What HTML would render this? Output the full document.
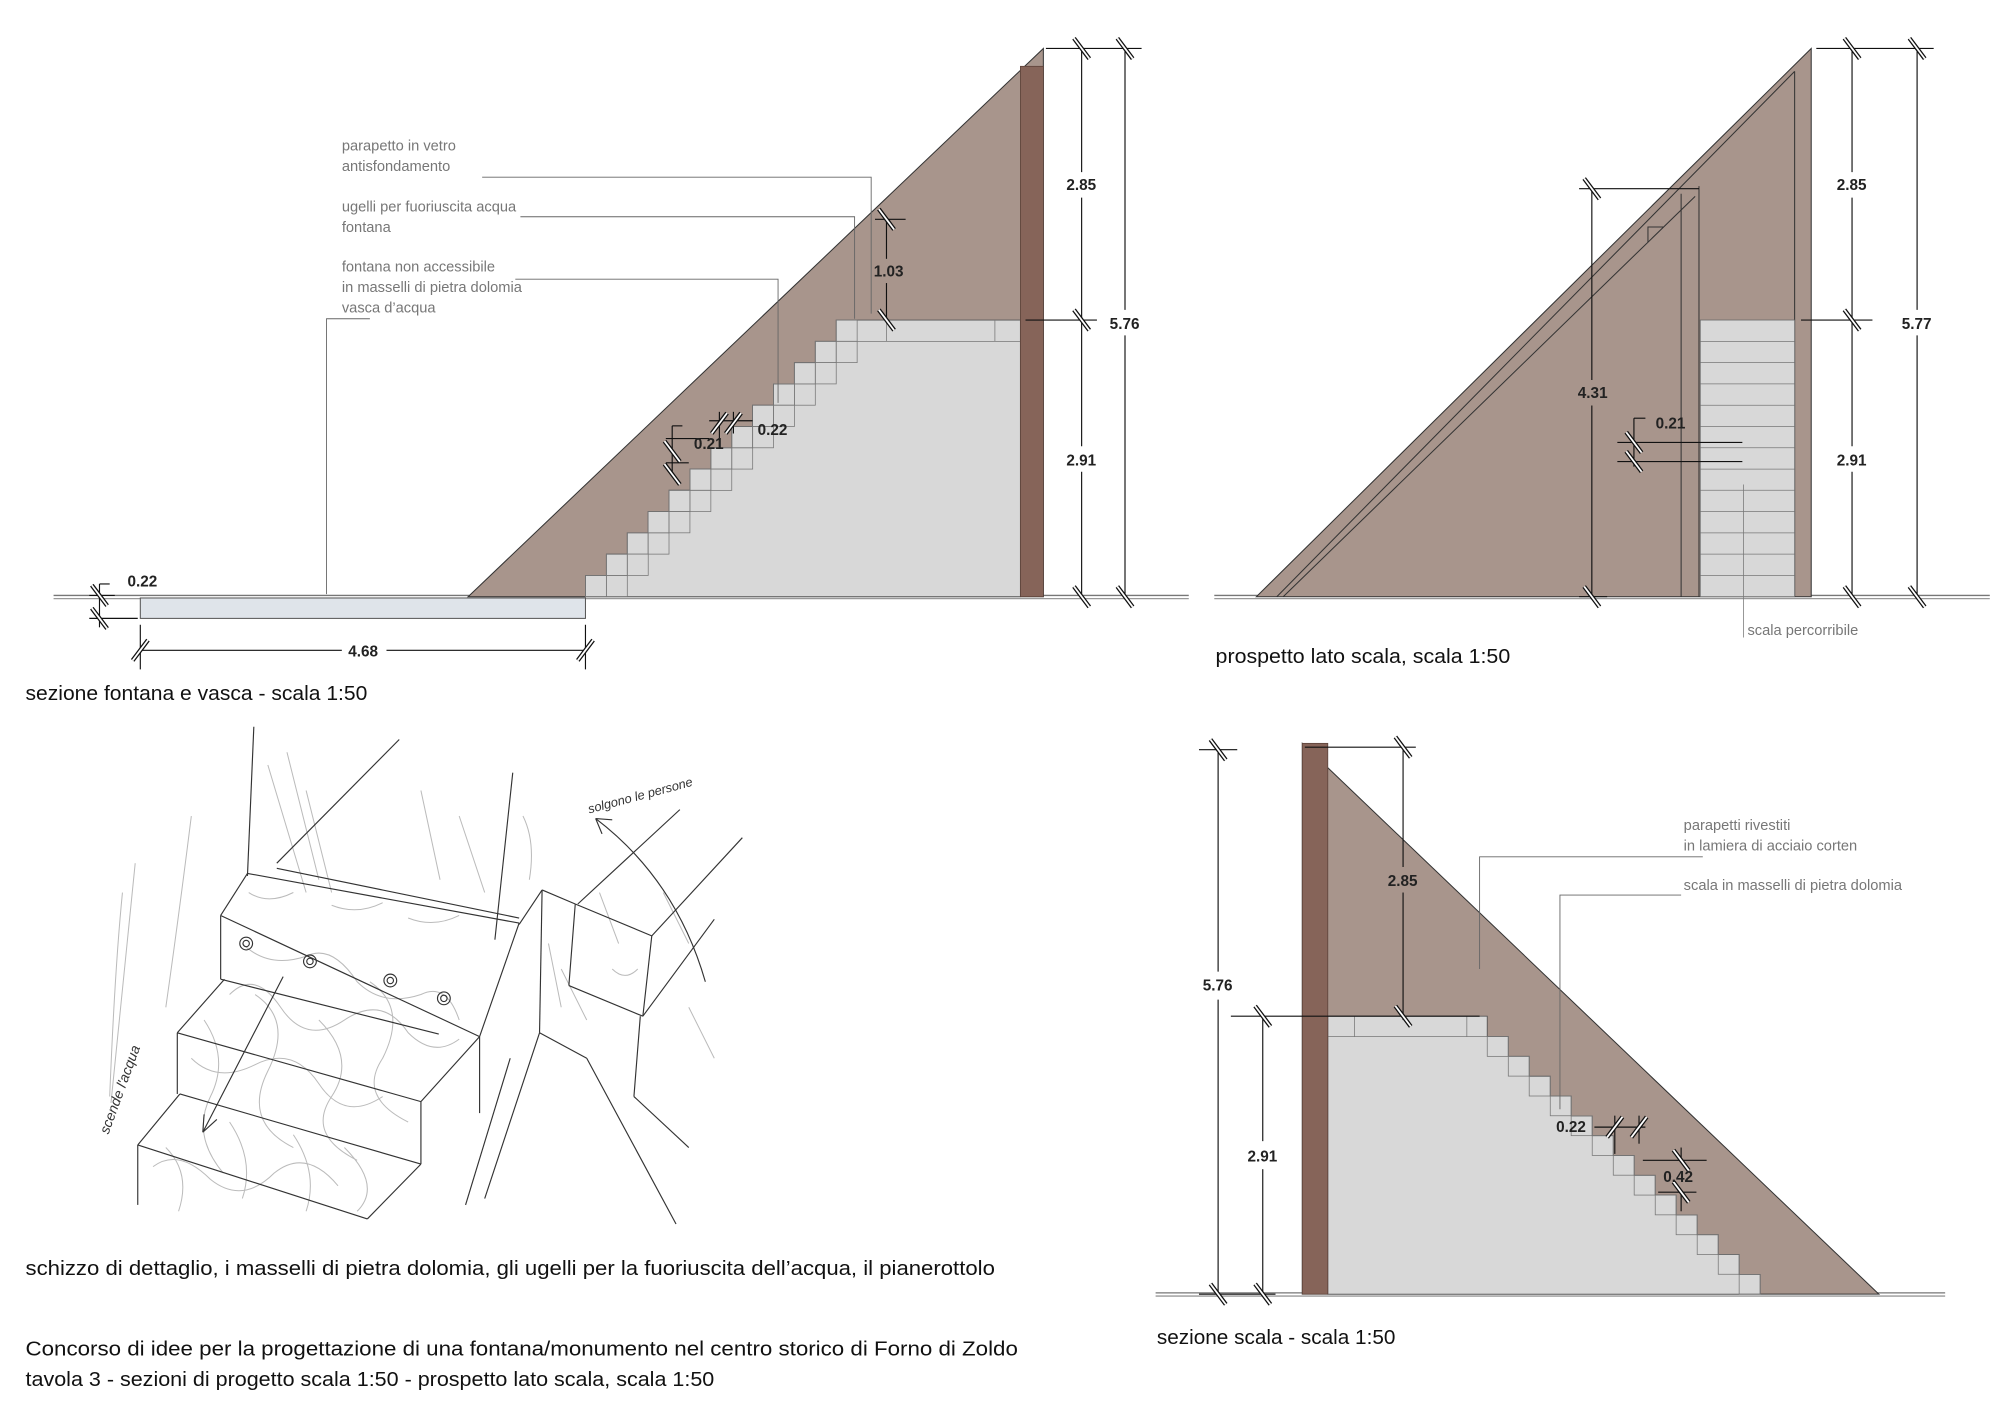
<!DOCTYPE html>
<html><head><meta charset="utf-8"><style>
html,body{margin:0;padding:0;background:#fff;}
svg{display:block;}
.t{font-family:"Liberation Sans",sans-serif;}
.lab{font-family:"Liberation Sans",sans-serif;font-size:11.5px;fill:#777;}
.dim{font-family:"Liberation Sans",sans-serif;font-size:12px;font-weight:bold;fill:#222;}
.cap{font-family:"Liberation Sans",sans-serif;font-size:16px;fill:#111;}
</style></head><body>
<svg width="2000" height="1414" viewBox="0 0 1568 1109" preserveAspectRatio="none" xmlns="http://www.w3.org/2000/svg">
<defs>
<g id="tv"><line x1="-6" y1="-8" x2="6" y2="8" stroke="#111" stroke-width="3.4"/><line x1="-6" y1="-8" x2="6" y2="8" stroke="#fff" stroke-width="1.4"/></g>
<g id="th"><line x1="-6" y1="8" x2="6" y2="-8" stroke="#111" stroke-width="3.4"/><line x1="-6" y1="8" x2="6" y2="-8" stroke="#fff" stroke-width="1.4"/></g>
</defs>
<rect width="1568" height="1109" fill="#fff"/>

<!-- PANEL 1 -->
<line x1="42" y1="467" x2="932" y2="467" stroke="#777" stroke-width="1"/>
<line x1="42" y1="469.5" x2="932" y2="469.5" stroke="#999" stroke-width="1"/>
<polygon points="367,468 818,38 818,468" fill="#a8958c" stroke="#333" stroke-width="0.8"/>
<polygon points="459,468 459,451.3 475.4,451.3 475.4,434.6 491.8,434.6 491.8,417.9 508.1,417.9 508.1,401.2 524.5,401.2 524.5,384.5 540.9,384.5 540.9,367.9 557.3,367.9 557.3,351.2 573.7,351.2 573.7,334.5 590,334.5 590,317.8 606.4,317.8 606.4,301.1 622.8,301.1 622.8,284.4 639.2,284.4 639.2,267.7 655.6,267.7 655.6,251 672,251 800,251 800,468" fill="#d8d8d8" stroke="#555" stroke-width="0.7"/>
<g fill="none" stroke="#777" stroke-width="0.6">
<rect x="459" y="451.3" width="16.4" height="16.7"/><rect x="475.4" y="434.6" width="16.4" height="16.7"/><rect x="491.8" y="417.9" width="16.4" height="16.7"/><rect x="508.1" y="401.2" width="16.4" height="16.7"/><rect x="524.5" y="384.5" width="16.4" height="16.7"/><rect x="540.9" y="367.9" width="16.4" height="16.7"/><rect x="557.3" y="351.2" width="16.4" height="16.7"/><rect x="573.7" y="334.5" width="16.4" height="16.7"/><rect x="590" y="317.8" width="16.4" height="16.7"/><rect x="606.4" y="301.1" width="16.4" height="16.7"/><rect x="622.8" y="284.4" width="16.4" height="16.7"/><rect x="639.2" y="267.7" width="16.4" height="16.7"/>
<rect x="475.4" y="451.3" width="16.4" height="16.7"/><rect x="491.8" y="434.6" width="16.4" height="16.7"/><rect x="508.1" y="417.9" width="16.4" height="16.7"/><rect x="524.5" y="401.2" width="16.4" height="16.7"/><rect x="540.9" y="384.5" width="16.4" height="16.7"/><rect x="557.3" y="367.9" width="16.4" height="16.7"/><rect x="573.7" y="351.2" width="16.4" height="16.7"/><rect x="590" y="334.5" width="16.4" height="16.7"/><rect x="606.4" y="317.8" width="16.4" height="16.7"/><rect x="622.8" y="301.1" width="16.4" height="16.7"/><rect x="639.2" y="284.4" width="16.4" height="16.7"/><rect x="655.6" y="267.7" width="16.4" height="16.7"/>
<rect x="655.6" y="251" width="16.4" height="16.7"/><line x1="672" y1="267.7" x2="800" y2="267.7"/><line x1="780" y1="251" x2="780" y2="267.7"/><line x1="695" y1="251" x2="695" y2="267.7"/>
</g>
<rect x="800" y="52" width="18" height="416" fill="#866459" stroke="#5a4038" stroke-width="0.6"/>
<rect x="110" y="469" width="349" height="16" fill="#dfe4ea" stroke="#555" stroke-width="0.8"/>
<g stroke="#666" stroke-width="0.7" fill="none">
<polyline points="378,139 683,139 683,246"/>
<polyline points="408,170 670,170 670,250"/>
<polyline points="404,219 610,219 610,316"/>
<polyline points="290,250 256,250 256,466"/>
</g>
<text class="lab" x="268" y="118">parapetto in vetro</text>
<text class="lab" x="268" y="134">antisfondamento</text>
<text class="lab" x="268" y="166">ugelli per fuoriuscita acqua</text>
<text class="lab" x="268" y="182">fontana</text>
<text class="lab" x="268" y="213">fontana non accessibile</text>
<text class="lab" x="268" y="229">in masselli di pietra dolomia</text>
<text class="lab" x="268" y="245">vasca d’acqua</text>
<g stroke="#111" stroke-width="0.9">
<line x1="820" y1="38" x2="895" y2="38"/><line x1="804" y1="251" x2="860" y2="251"/><line x1="848" y1="38" x2="848" y2="135"/><line x1="848" y1="155" x2="848" y2="350"/><line x1="848" y1="370" x2="848" y2="470"/>
<line x1="882" y1="38" x2="882" y2="243"/><line x1="882" y1="263" x2="882" y2="470"/>
<line x1="686" y1="172" x2="710" y2="172"/><line x1="695" y1="172" x2="695" y2="203"/><line x1="695" y1="222" x2="695" y2="251"/>
<line x1="70" y1="467" x2="90" y2="467"/><line x1="70" y1="485" x2="108" y2="485"/><line x1="78" y1="458" x2="78" y2="492"/><line x1="78" y1="458" x2="86" y2="458"/>
<line x1="110" y1="490" x2="110" y2="525"/><line x1="459" y1="490" x2="459" y2="525"/><line x1="110" y1="510" x2="268" y2="510"/><line x1="303" y1="510" x2="459" y2="510"/>
<line x1="522" y1="344" x2="556" y2="344"/><line x1="522" y1="363" x2="540" y2="363"/><line x1="527" y1="334" x2="527" y2="372"/><line x1="527" y1="334" x2="535" y2="334"/>
<line x1="556" y1="330" x2="590" y2="330"/><line x1="564" y1="323" x2="564" y2="350"/><line x1="575" y1="323" x2="575" y2="340"/>
</g>
<use href="#tv" x="848" y="38"/><use href="#tv" x="848" y="251"/><use href="#tv" x="848" y="468"/>
<use href="#tv" x="882" y="38"/><use href="#tv" x="882" y="468"/>
<use href="#tv" x="695" y="172"/><use href="#tv" x="695" y="251"/>
<use href="#tv" x="78" y="467"/><use href="#tv" x="78" y="485"/>
<use href="#th" x="110" y="510"/><use href="#th" x="459" y="510"/>
<use href="#tv" x="527" y="354"/><use href="#tv" x="527" y="372"/>
<use href="#th" x="564" y="332"/><use href="#th" x="575" y="332"/>
<text class="dim" x="836" y="149">2.85</text><text class="dim" x="836" y="365">2.91</text><text class="dim" x="870" y="258">5.76</text>
<text class="dim" x="685" y="217">1.03</text><text class="dim" x="100" y="460">0.22</text><text class="dim" x="273" y="515">4.68</text>
<text class="dim" x="544" y="352">0.21</text><text class="dim" x="594" y="341">0.22</text>
<text class="cap" x="20" y="549" textLength="268" lengthAdjust="spacingAndGlyphs">sezione fontana e vasca - scala 1:50</text>

<!-- PANEL 2 -->
<line x1="952" y1="467" x2="1560" y2="467" stroke="#777" stroke-width="1"/>
<line x1="952" y1="469.5" x2="1560" y2="469.5" stroke="#999" stroke-width="1"/>
<polygon points="985,468 1420,38 1420,468" fill="#a8958c" stroke="#333" stroke-width="0.8"/>
<g stroke="#333" stroke-width="0.8" fill="none">
<line x1="1001" y1="468" x2="1407" y2="56"/>
<line x1="1006" y1="468" x2="1329" y2="154"/>
<line x1="1318" y1="152" x2="1318" y2="468"/>
<line x1="1332" y1="146" x2="1332" y2="468"/>
<line x1="1407" y1="56" x2="1407" y2="468"/>
<polyline points="1292,190 1292,178 1304,178"/>
</g>
<rect x="1333" y="251" width="74" height="217" fill="#d8d8d8" stroke="#666" stroke-width="0.6"/>
<g stroke="#777" stroke-width="0.6">
<line x1="1333" y1="267.7" x2="1407" y2="267.7"/><line x1="1333" y1="284.4" x2="1407" y2="284.4"/><line x1="1333" y1="301.1" x2="1407" y2="301.1"/><line x1="1333" y1="317.8" x2="1407" y2="317.8"/><line x1="1333" y1="334.5" x2="1407" y2="334.5"/><line x1="1333" y1="351.2" x2="1407" y2="351.2"/><line x1="1333" y1="367.9" x2="1407" y2="367.9"/><line x1="1333" y1="384.5" x2="1407" y2="384.5"/><line x1="1333" y1="401.2" x2="1407" y2="401.2"/><line x1="1333" y1="417.9" x2="1407" y2="417.9"/><line x1="1333" y1="434.6" x2="1407" y2="434.6"/><line x1="1333" y1="451.3" x2="1407" y2="451.3"/>
<line x1="1367" y1="380" x2="1367" y2="500"/>
</g>
<g stroke="#111" stroke-width="0.9">
<line x1="1424" y1="38" x2="1516" y2="38"/><line x1="1412" y1="251" x2="1468" y2="251"/>
<line x1="1452" y1="38" x2="1452" y2="135"/><line x1="1452" y1="155" x2="1452" y2="350"/><line x1="1452" y1="370" x2="1452" y2="470"/>
<line x1="1503" y1="38" x2="1503" y2="243"/><line x1="1503" y1="263" x2="1503" y2="470"/>
<line x1="1238" y1="148" x2="1332" y2="148"/><line x1="1248" y1="148" x2="1248" y2="298"/><line x1="1248" y1="318" x2="1248" y2="470"/><line x1="1238" y1="468" x2="1260" y2="468"/>
<line x1="1268" y1="347" x2="1366" y2="347"/><line x1="1268" y1="362" x2="1366" y2="362"/><line x1="1281" y1="328" x2="1281" y2="366"/><line x1="1281" y1="328" x2="1290" y2="328"/>
</g>
<use href="#tv" x="1452" y="38"/><use href="#tv" x="1452" y="251"/><use href="#tv" x="1452" y="468"/>
<use href="#tv" x="1503" y="38"/><use href="#tv" x="1503" y="468"/>
<use href="#tv" x="1248" y="148"/><use href="#tv" x="1248" y="468"/>
<use href="#tv" x="1281" y="347"/><use href="#tv" x="1281" y="362"/>
<text class="dim" x="1440" y="149">2.85</text><text class="dim" x="1440" y="365">2.91</text><text class="dim" x="1491" y="258">5.77</text>
<text class="dim" x="1237" y="312">4.31</text><text class="dim" x="1298" y="336">0.21</text>
<text class="lab" x="1370" y="498">scala percorribile</text>
<text class="cap" x="953" y="520" textLength="231" lengthAdjust="spacingAndGlyphs">prospetto lato scala, scala 1:50</text>

<!-- PANEL 3 -->
<line x1="906" y1="1014" x2="1525" y2="1014" stroke="#777" stroke-width="1"/>
<line x1="906" y1="1016.5" x2="1525" y2="1016.5" stroke="#999" stroke-width="1"/>
<polygon points="1021,583 1473,1015 1021,1015" fill="#a8958c" stroke="#333" stroke-width="0.8"/>
<polygon points="1041,797 1166,797 1166,813 1182.5,813 1182.5,828.5 1198.9,828.5 1198.9,844.1 1215.4,844.1 1215.4,859.6 1231.8,859.6 1231.8,875.2 1248.3,875.2 1248.3,890.7 1264.8,890.7 1264.8,906.2 1281.2,906.2 1281.2,921.8 1297.7,921.8 1297.7,937.3 1314.1,937.3 1314.1,952.9 1330.6,952.9 1330.6,968.4 1347.1,968.4 1347.1,983.9 1363.5,983.9 1363.5,999.5 1380,999.5 1380,1015 1041,1015" fill="#d8d8d8" stroke="#555" stroke-width="0.7"/>
<g fill="none" stroke="#777" stroke-width="0.6">
<line x1="1041" y1="813" x2="1166" y2="813"/><line x1="1062" y1="797" x2="1062" y2="813"/><line x1="1150" y1="797" x2="1150" y2="813"/>
<rect x="1166" y="813" width="16.5" height="15.5"/><rect x="1182.5" y="828.5" width="16.5" height="15.5"/><rect x="1198.9" y="844.1" width="16.5" height="15.5"/><rect x="1215.4" y="859.6" width="16.5" height="15.5"/><rect x="1231.8" y="875.2" width="16.5" height="15.5"/><rect x="1248.3" y="890.7" width="16.5" height="15.5"/><rect x="1264.8" y="906.2" width="16.5" height="15.5"/><rect x="1281.2" y="921.8" width="16.5" height="15.5"/><rect x="1297.7" y="937.3" width="16.5" height="15.5"/><rect x="1314.1" y="952.9" width="16.5" height="15.5"/><rect x="1330.6" y="968.4" width="16.5" height="15.5"/><rect x="1347.1" y="983.9" width="16.5" height="15.5"/><rect x="1363.5" y="999.5" width="16.5" height="15.5"/>
</g>
<rect x="1021" y="583" width="20" height="432" fill="#866459" stroke="#5a4038" stroke-width="0.6"/>
<g stroke="#666" stroke-width="0.7" fill="none">
<polyline points="1335,672 1160,672 1160,760"/>
<polyline points="1318,702 1223,702 1223,870"/>
</g>
<text class="lab" x="1320" y="651">parapetti rivestiti</text>
<text class="lab" x="1320" y="667">in lamiera di acciaio corten</text>
<text class="lab" x="1320" y="698">scala in masselli di pietra dolomia</text>
<g stroke="#111" stroke-width="0.9">
<line x1="940" y1="588" x2="970" y2="588"/><line x1="955" y1="588" x2="955" y2="762"/><line x1="955" y1="784" x2="955" y2="1017"/>
<line x1="965" y1="797" x2="1160" y2="797"/><line x1="990" y1="797" x2="990" y2="895"/><line x1="990" y1="917" x2="990" y2="1017"/>
<line x1="1023" y1="586" x2="1110" y2="586"/><line x1="1100" y1="586" x2="1100" y2="680"/><line x1="1100" y1="700" x2="1100" y2="800"/>
<line x1="940" y1="1015" x2="1000" y2="1015"/>
<line x1="1250" y1="884" x2="1290" y2="884"/><line x1="1266" y1="875" x2="1266" y2="905"/><line x1="1285" y1="875" x2="1285" y2="897"/>
<line x1="1288" y1="910" x2="1338" y2="910"/><line x1="1300" y1="935" x2="1330" y2="935"/><line x1="1318" y1="900" x2="1318" y2="912"/><line x1="1318" y1="934" x2="1318" y2="950"/>
</g>
<use href="#tv" x="955" y="588"/><use href="#tv" x="955" y="1015"/>
<use href="#tv" x="990" y="797"/><use href="#tv" x="990" y="1015"/>
<use href="#tv" x="1100" y="586"/><use href="#tv" x="1100" y="797"/>
<use href="#th" x="1266" y="884"/><use href="#th" x="1285" y="884"/>
<use href="#tv" x="1318" y="910"/><use href="#tv" x="1318" y="935"/>
<text class="dim" x="943" y="777">5.76</text><text class="dim" x="978" y="911">2.91</text><text class="dim" x="1088" y="695">2.85</text>
<text class="dim" x="1220" y="888">0.22</text><text class="dim" x="1304" y="927">0.42</text>
<text class="cap" x="907" y="1054" textLength="187" lengthAdjust="spacingAndGlyphs">sezione scala - scala 1:50</text>

<!-- SKETCH -->
<g stroke="#bbb" stroke-width="0.8" fill="none">
<path d="M106,677 L87,865"/><path d="M96,700 Q90,760 86,860"/><path d="M150,640 Q140,720 130,790"/>
<path d="M210,600 L240,700 M225,590 L250,690 M240,620 L260,700"/>
<path d="M330,620 L345,690 M360,640 L380,700"/>
<path d="M160,800 Q180,830 165,860 Q150,890 175,920 M200,780 Q230,800 210,840 Q190,880 230,900 M250,800 Q280,830 260,860 Q240,890 280,910 M290,770 Q320,790 300,830 Q280,860 320,880"/>
<path d="M130,900 Q150,920 140,950 M180,880 Q200,910 190,940 M230,890 Q250,920 240,950 M270,900 Q300,930 280,950"/>
<path d="M190,740 Q210,760 240,750 Q260,740 280,770 Q300,790 330,780 Q350,770 360,800"/>
<path d="M440,760 L460,800 M470,700 L485,740 M520,700 L540,740 M540,790 L560,830"/>
<path d="M180,780 Q200,760 220,790 Q240,820 270,800 Q300,780 320,810 Q340,830 360,815"/>
<path d="M150,830 Q170,850 200,835 Q230,820 250,850 Q270,880 300,860"/>
<path d="M120,915 Q140,900 165,925 Q190,945 215,920 Q240,900 265,930"/>
<path d="M195,700 Q210,710 230,700 M260,710 Q280,718 300,708 M320,720 Q340,728 360,718"/>
<path d="M480,760 Q490,770 500,760 M430,740 L440,790 M410,640 Q420,660 415,690"/>
</g>
<g stroke="#333" stroke-width="0.9" fill="none">
<line x1="199" y1="570" x2="194" y2="687"/>
<line x1="313" y1="580" x2="217" y2="677"/>
<line x1="402" y1="606" x2="388" y2="737"/>
<line x1="194" y1="685" x2="407" y2="724"/>
<line x1="217" y1="681" x2="407" y2="720"/>
<line x1="173" y1="718" x2="376" y2="813"/>
<line x1="376" y1="813" x2="407" y2="724"/>
<line x1="173" y1="718" x2="194" y2="685"/>
<line x1="173" y1="718" x2="173" y2="768"/>
<line x1="173" y1="768" x2="344" y2="811"/>
<line x1="376" y1="813" x2="376" y2="873"/>
<line x1="139" y1="810" x2="330" y2="864"/>
<line x1="139" y1="810" x2="176" y2="768"/>
<line x1="139" y1="810" x2="139" y2="858"/>
<line x1="330" y1="864" x2="376" y2="813"/>
<line x1="141" y1="858" x2="330" y2="913"/>
<line x1="330" y1="864" x2="330" y2="913"/>
<line x1="108" y1="898" x2="141" y2="858"/>
<line x1="108" y1="898" x2="288" y2="956"/>
<line x1="330" y1="913" x2="288" y2="956"/>
<line x1="108" y1="898" x2="108" y2="945"/>
<line x1="425" y1="698" x2="407" y2="725"/>
<line x1="425" y1="698" x2="423" y2="810"/>
<line x1="425" y1="698" x2="451" y2="709"/>
<line x1="451" y1="709" x2="446" y2="773"/>
<line x1="446" y1="773" x2="504" y2="797"/>
<line x1="504" y1="797" x2="511" y2="734"/>
<line x1="451" y1="709" x2="511" y2="734"/>
<line x1="511" y1="734" x2="582" y2="657"/>
<line x1="453" y1="709" x2="533" y2="635"/>
<line x1="504" y1="797" x2="560" y2="721"/>
<line x1="502" y1="797" x2="497" y2="860"/>
<line x1="497" y1="860" x2="540" y2="900"/>
<line x1="423" y1="810" x2="460" y2="830"/>
<line x1="460" y1="830" x2="530" y2="960"/>
<line x1="423" y1="810" x2="380" y2="940"/>
<line x1="400" y1="830" x2="365" y2="945"/>
<path d="M467,642 Q530,690 553,770"/>
<path d="M467,642 L480,643 M467,642 L472,654"/>
<line x1="222" y1="766" x2="159" y2="888"/>
<path d="M159,888 L160,874 M159,888 L170,878"/>
<circle cx="193" cy="740" r="5"/><circle cx="193" cy="740" r="2.5"/>
<circle cx="243" cy="754" r="5"/><circle cx="243" cy="754" r="2.5"/>
<circle cx="306" cy="769" r="5"/><circle cx="306" cy="769" r="2.5"/>
<circle cx="348" cy="783" r="5"/><circle cx="348" cy="783" r="2.5"/>
</g>
<text class="t" x="462" y="638" font-size="10" fill="#333" transform="rotate(-15 462 638)" font-style="italic">solgono le persone</text>
<text class="t" x="85" y="890" font-size="11" fill="#333" transform="rotate(-70 85 890)" font-style="italic">scende l'acqua</text>

<text class="cap" x="20" y="1000" textLength="760" lengthAdjust="spacingAndGlyphs">schizzo di dettaglio, i masselli di pietra dolomia, gli ugelli per la fuoriuscita dell’acqua, il pianerottolo</text>
<text class="cap" x="20" y="1063" textLength="778" lengthAdjust="spacingAndGlyphs">Concorso di idee per la progettazione di una fontana/monumento nel centro storico di Forno di Zoldo</text>
<text class="cap" x="20" y="1087" textLength="540" lengthAdjust="spacingAndGlyphs">tavola 3 - sezioni di progetto scala 1:50 - prospetto lato scala, scala 1:50</text>
</svg>
</body></html>
